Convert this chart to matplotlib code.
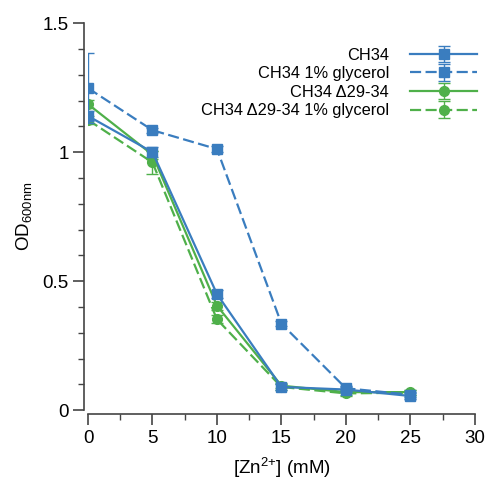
import numpy as np
import matplotlib
matplotlib.use('Agg')
import matplotlib.pyplot as plt
from matplotlib.ticker import MultipleLocator

plt.rcParams['font.family'] = ['Liberation Sans', 'DejaVu Sans']
plt.rcParams['mathtext.fontset'] = 'custom'
plt.rcParams['mathtext.rm'] = 'Liberation Sans'
plt.rcParams['mathtext.it'] = 'Liberation Sans'

zn = [0, 5, 10, 15, 20, 25]

ch34 = [1.14, 1.0, 0.45, 0.09, 0.08, 0.055]
ch34_err = [0.02, 0.02, 0.015, 0.01, 0.01, 0.01]
ch34_gly = [1.248, 1.085, 1.012, 0.335, 0.085, 0.06]
ch34_gly_err = [0.135, 0.01, 0.01, 0.01, 0.01, 0.01]
dl = [1.186, 0.99, 0.405, 0.095, 0.07, 0.07]
dl_err = [0.015, 0.015, 0.015, 0.01, 0.01, 0.01]
dl_gly = [1.125, 0.96, 0.352, 0.09, 0.065, 0.068]
dl_gly_err = [0.015, 0.045, 0.015, 0.01, 0.01, 0.01]

blue = '#3a7dbf'
green = '#4fb04a'

fig = plt.figure(figsize=(4.89, 4.82), dpi=100)
ax = fig.add_axes([0.18, 0.149, 0.791, 0.803])

series = [
    ('CH34', ch34, ch34_err, blue, '-', 's', 4),
    ('CH34 1% glycerol', ch34_gly, ch34_gly_err, blue, '--', 's', 3),
    ('CH34 \u039429-34', dl, dl_err, green, '-', 'o', 2),
    ('CH34 \u039429-34 1% glycerol', dl_gly, dl_gly_err, green, '--', 'o', 1),
]
for name, vals, err, col, ls, mk, z in series:
    kw = {}
    if ls == '--':
        kw['dashes'] = (5, 2)
    ax.errorbar(zn, vals, yerr=err, color=col, ls=ls, lw=1.6, marker=mk,
                markersize=7, capsize=4, elinewidth=1.0, capthick=1.0,
                label=name, zorder=z, **kw)

ax.set_xlim(0, 30)
ax.set_ylim(0, 1.5)
ax.xaxis.set_major_locator(MultipleLocator(5))
ax.xaxis.set_minor_locator(MultipleLocator(2.5))
ax.yaxis.set_minor_locator(MultipleLocator(0.1))
ax.set_yticks([0, 0.5, 1, 1.5])
ax.set_yticklabels(['0', '0.5', '1', '1.5'])

for s in ['top', 'right']:
    ax.spines[s].set_visible(False)
for s in ['left', 'bottom']:
    ax.spines[s].set_position(('outward', 3))
    ax.spines[s].set_color('#444444')
    ax.spines[s].set_linewidth(1.2)
ax.tick_params(which='major', length=8, width=1.2, color='#444444',
               labelsize=13.5, pad=3)
ax.tick_params(which='minor', length=4.5, width=1.0, color='#444444')

ax.set_xlabel('[Zn$^{2{+}}$] (mM)', fontsize=13.5, labelpad=7)
ax.set_ylabel('OD$_{600nm}$', fontsize=13.5, labelpad=6)

ax.legend(loc='upper right', bbox_to_anchor=(1.045, 0.975), frameon=False,
          markerfirst=False, fontsize=11.8, handlelength=4.1,
          labelspacing=0.22, handletextpad=1.3)

fig.savefig('out.png', dpi=100)
